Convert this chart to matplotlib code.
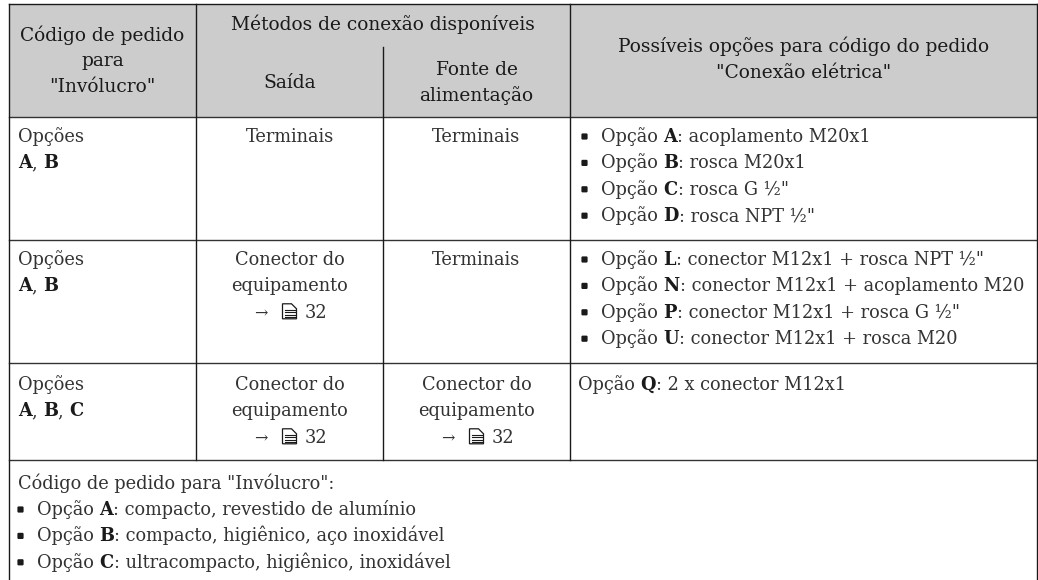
import matplotlib
matplotlib.use("Agg")
import matplotlib.pyplot as plt
from matplotlib.patches import Rectangle, Polygon, FancyBboxPatch

W, H = 1038, 580
FONT = "DejaVu Serif"
SIZE = 12.75
HEAD_SIZE = 13.4
BLACK = "#1a1a1a"
GREY = "#333333"

# table layout, in pixels of the original
col_x = [9, 196, 383, 570, 1037]
row_y = [4, 117, 240, 363, 460]
sub_y = 47

head_code = ["Código de pedido", "para", '"Invólucro"']
head_methods = "Métodos de conexão disponíveis"
head_out = "Saída"
head_power = ["Fonte de", "alimentação"]
head_opts = ["Possíveis opções para código do pedido", '"Conexão elétrica"']

# "*" switches bold on/off
row1_opts = ["Opção *A*: acoplamento M20x1", "Opção *B*: rosca M20x1",
             'Opção *C*: rosca G ½"', 'Opção *D*: rosca NPT ½"']
row2_opts = ['Opção *L*: conector M12x1 + rosca NPT ½"',
             "Opção *N*: conector M12x1 + acoplamento M20",
             'Opção *P*: conector M12x1 + rosca G ½"',
             "Opção *U*: conector M12x1 + rosca M20"]
row3_opt = "Opção *Q*: 2 x conector M12x1"
foot_title = 'Código de pedido para "Invólucro":'
foot_items = ["Opção *A*: compacto, revestido de alumínio",
              "Opção *B*: compacto, higiênico, aço inoxidável",
              "Opção *C*: ultracompacto, higiênico, inoxidável"]
conn = ["Conector do", "equipamento"]
page_ref = "32"

fig = plt.figure(figsize=(W / 100, H / 100), dpi=100)
ax = fig.add_axes([0, 0, 1, 1])
ax.set_xlim(0, W)
ax.set_ylim(H, 0)
ax.axis("off")


def txt(x, y, s, ha="left", bold=False, size=SIZE, color=GREY):
    return ax.text(x, y, s, ha=ha, va="baseline", family=FONT, fontsize=size,
                   color=BLACK if bold else color, fontweight="bold" if bold else "normal")


def head(x, y, s):
    return txt(x, y, s, ha="center", size=HEAD_SIZE, color=BLACK)


def rich(x, y, s):
    # left aligned line with bold parts
    r = fig.canvas.get_renderer()
    for i, part in enumerate(s.split("*")):
        if not part:
            continue
        t = txt(x, y, part, bold=i % 2 == 1)
        x += t.get_window_extent(r).width


def bullet(x, y, s):
    ax.add_patch(FancyBboxPatch((x + 1, y - 8), 5, 5, boxstyle="round,pad=0.6,rounding_size=1.2",
                                fc=BLACK, ec="none"))
    rich(x + 20, y, s)


def doc_ref(cx, y):
    # arrow, small page icon, page number
    txt(cx - 35, y, "→", size=11.5)
    ix = cx - 7
    ax.add_patch(Polygon([(ix, y - 14), (ix + 9, y - 14), (ix + 14, y - 9),
                          (ix + 14, y + 1), (ix, y + 1)], closed=True, fc="white", ec=BLACK, lw=0.9))
    for dy in [-8, -5.5, -3, -0.5]:
        ax.plot([ix + 2, ix + 12], [y + dy, y + dy], color=BLACK, lw=0.8)
    txt(cx + 15, y, page_ref)


def conn_cell(cx, y0, step):
    txt(cx, y0, conn[0], ha="center")
    txt(cx, y0 + step, conn[1], ha="center")
    doc_ref(cx, y0 + 2 * step)


ax.add_patch(Rectangle((col_x[0], row_y[0]), col_x[-1] - col_x[0], row_y[1] - row_y[0], fc="#cccccc", ec="none"))

# horizontal rules
ax.plot([col_x[0], col_x[-1]], [row_y[0], row_y[0]], color=BLACK, lw=1.0)
for y in row_y[1:]:
    ax.plot([col_x[0], col_x[-1]], [y, y], color="#333333", lw=1.0)

# vertical rules
ax.plot([col_x[0], col_x[0]], [row_y[0], H], color=BLACK, lw=1.0)
ax.plot([col_x[-1], col_x[-1]], [row_y[0], H], color=BLACK, lw=1.0)
for x in [col_x[1], col_x[3]]:
    ax.plot([x, x], [row_y[0], row_y[-1]], color=BLACK, lw=1.0)
ax.plot([col_x[2], col_x[2]], [sub_y, row_y[-1]], color=BLACK, lw=1.0)

# header
c0 = (col_x[0] + col_x[1]) / 2
c1 = (col_x[1] + col_x[2]) / 2
c2 = (col_x[2] + col_x[3]) / 2
c3 = (col_x[3] + col_x[4]) / 2
head(c0, 41, head_code[0])
head(c0, 66, head_code[1])
head(c0, 92, head_code[2])
head((col_x[1] + col_x[3]) / 2, 30, head_methods)
head(c1, 88, head_out)
head(c2, 75, head_power[0])
head(c2, 101, head_power[1])
head(c3, 52, head_opts[0])
head(c3, 78, head_opts[1])

step = 26.4

# row 1
rich(18, 142, "Opções")
rich(18, 168, "*A*, *B*")
txt(c1, 142, "Terminais", ha="center")
txt(c2, 142, "Terminais", ha="center")
for i, s in enumerate(row1_opts):
    bullet(581, 142 + i * step, s)

# row 2
rich(18, 265, "Opções")
rich(18, 291, "*A*, *B*")
conn_cell(c1, 265, step)
txt(c2, 265, "Terminais", ha="center")
for i, s in enumerate(row2_opts):
    bullet(581, 265 + i * step, s)

# row 3
rich(18, 390, "Opções")
rich(18, 416, "*A*, *B*, *C*")
conn_cell(c1, 390, step)
conn_cell(c2, 390, step)
rich(578, 390, row3_opt)

# footer
rich(18, 489, foot_title)
for i, s in enumerate(foot_items):
    bullet(17, 515 + i * step, s)

fig.savefig("out.png", dpi=100)
